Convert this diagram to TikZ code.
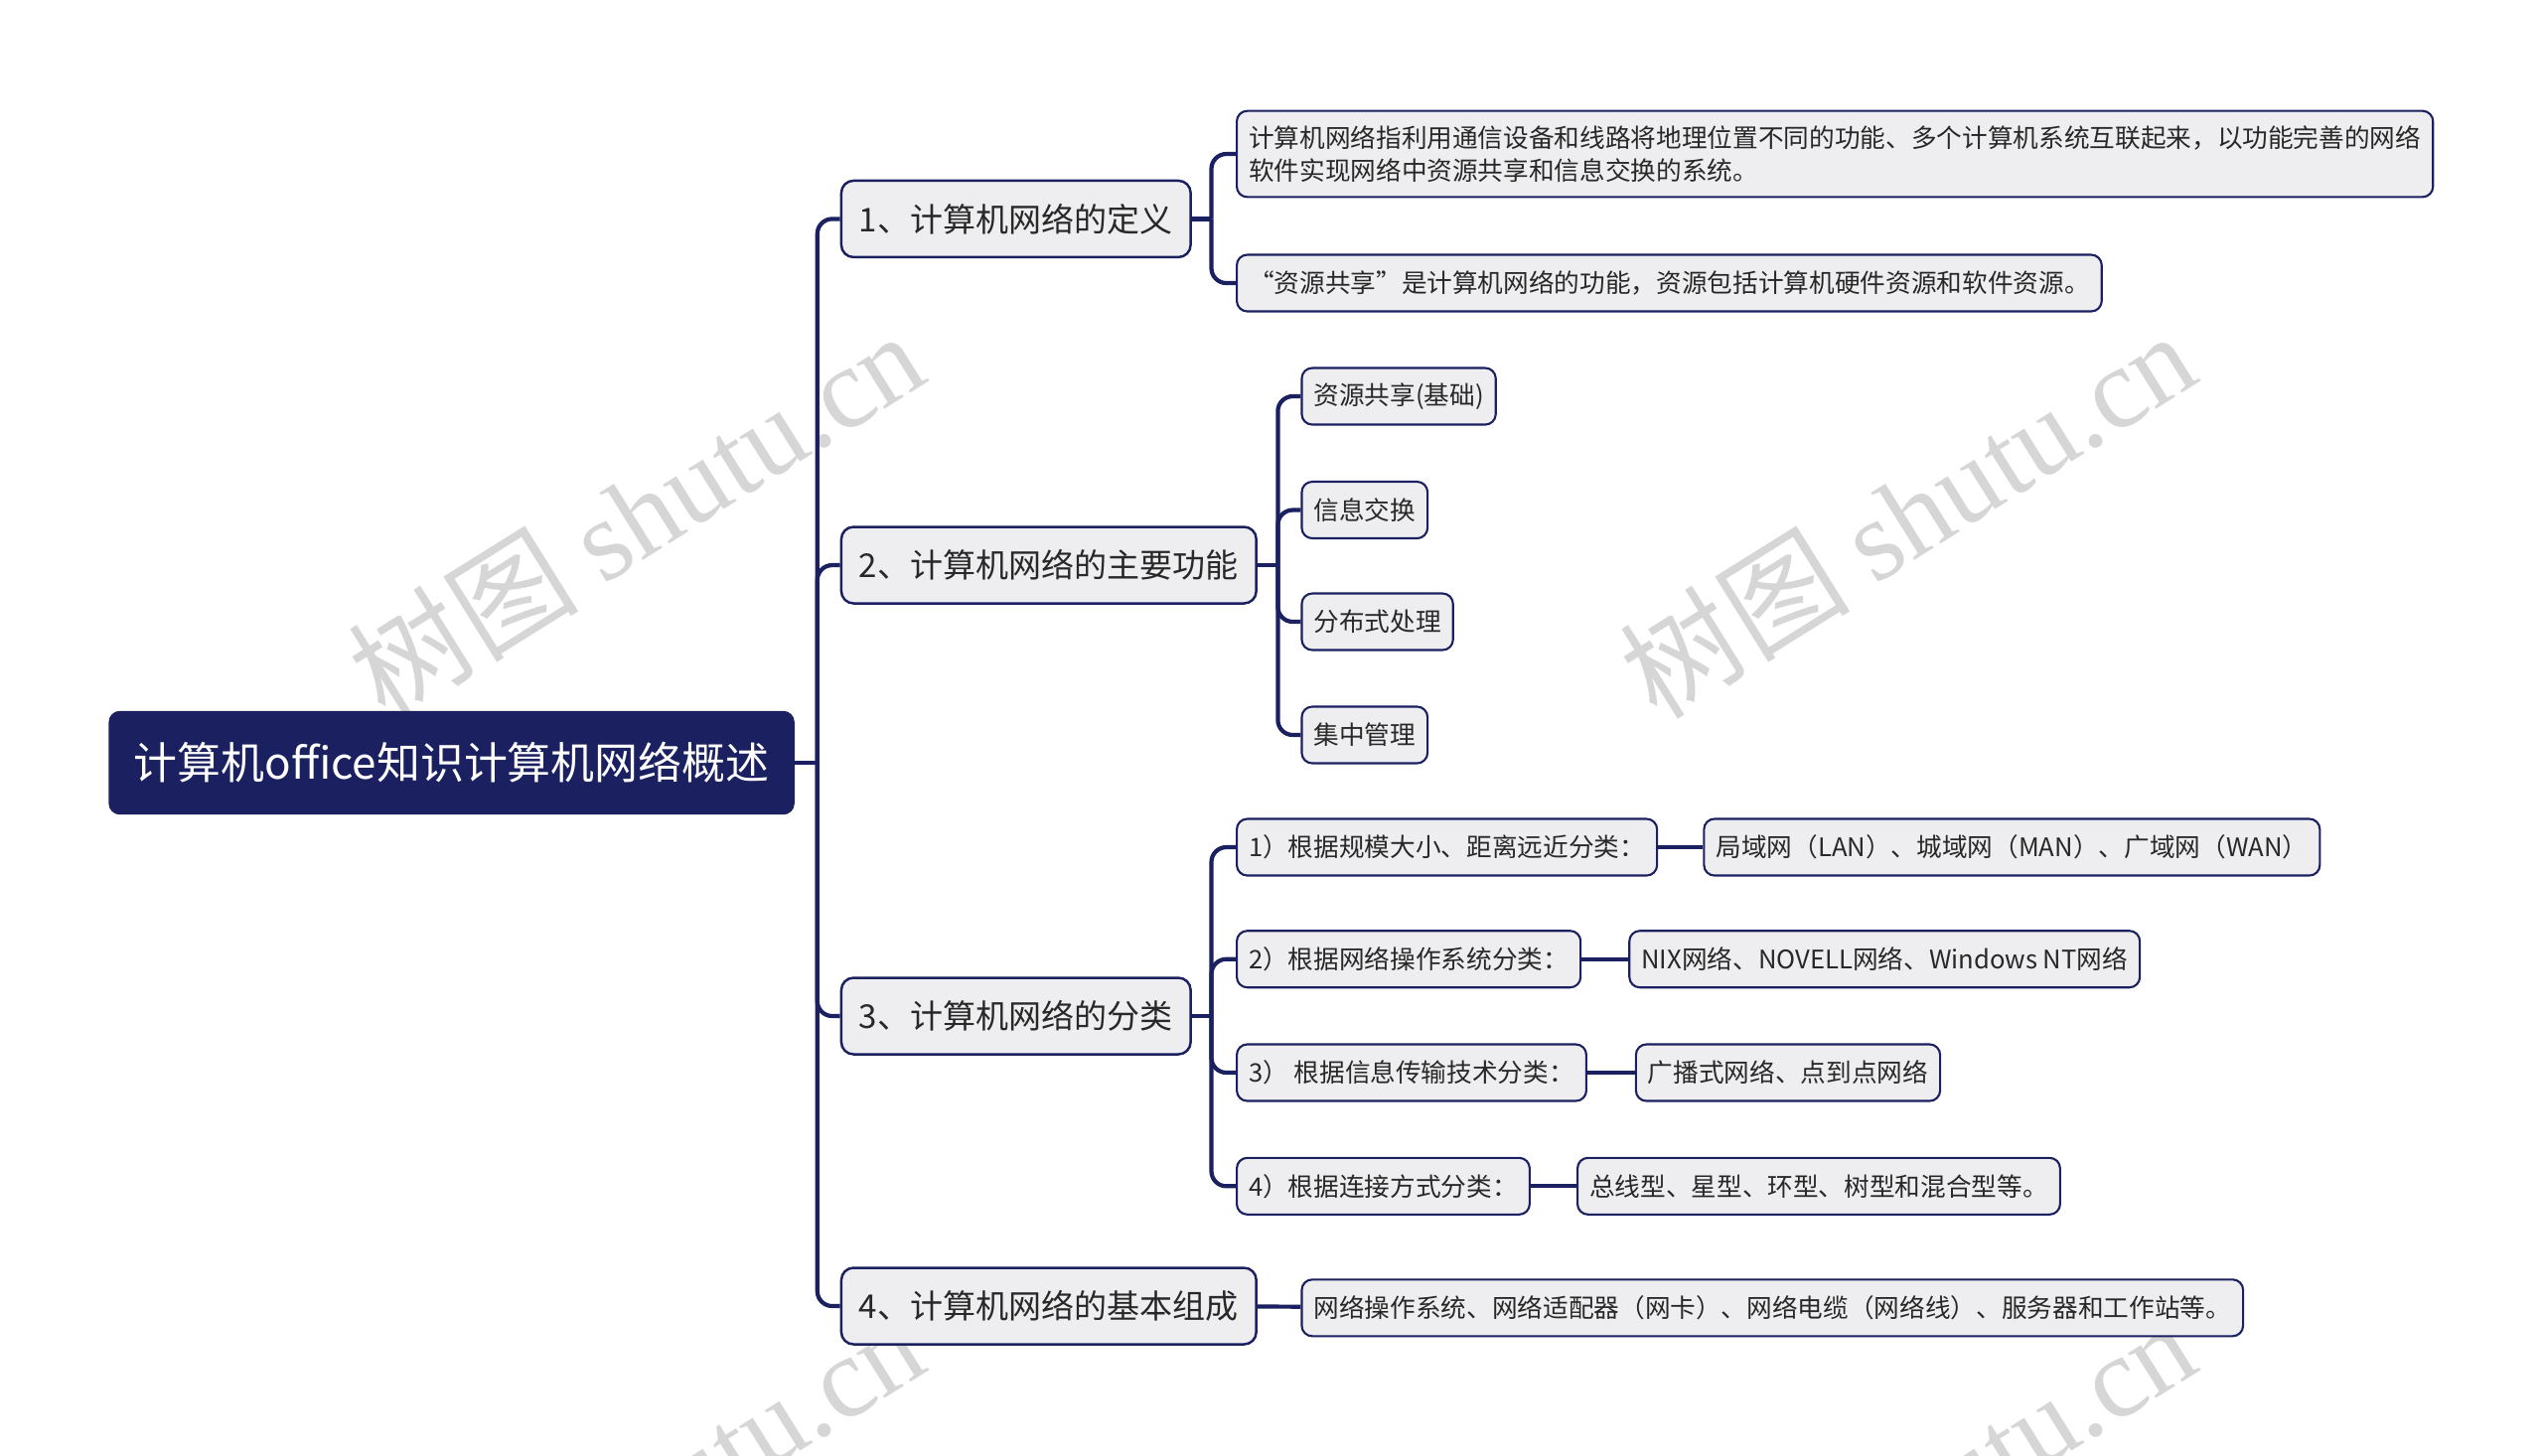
\documentclass[tikz,border=0pt]{standalone}
\usepackage{fontspec}
\setmainfont{Noto Sans CJK SC}
\newfontfamily\wmfont{Liberation Serif}
\usepackage{tikz}
\usetikzlibrary{positioning,calc}
\definecolor{navy}{RGB}{27,32,96}
\definecolor{boxfill}{RGB}{238,238,240}
\definecolor{txt}{RGB}{40,40,40}
\definecolor{wmark}{RGB}{214,214,214}
\tikzset{
  root/.style={rectangle,rounded corners=3pt,draw=navy,fill=navy,text=white,
               minimum width=6.89cm,minimum height=1.03cm,inner sep=0pt,
               font=\fontsize{12.5}{15}\selectfont},
  topic/.style={rectangle,rounded corners=3.5pt,draw=navy,line width=0.7pt,
                fill=boxfill,text=txt,anchor=west,
                minimum height=0.77cm,inner xsep=0.18cm,inner ysep=0pt,
                font=\fontsize{9.4}{11}\selectfont},
  leaf/.style={topic,rounded corners=3pt,line width=0.6pt,
               minimum height=0.57cm,inner xsep=0.12cm,
               font=\fontsize{7.3}{9.3}\selectfont},
  link/.style={draw=navy,line width=1.2pt,rounded corners=0.15cm},
  wm/.style={text=wmark,rotate=32,font=\fontsize{33}{38}\selectfont},
}

\begin{document}
\begin{tikzpicture}
\useasboundingbox (0,0) rectangle (25.6,-14.65);

% Watermarks
\begin{scope}
\clip (0,0) rectangle (25.6,-14.65);
\node[wm] (wm1) at (6.40,-5.17)  {树图 {\wmfont shutu.cn}};
\node[wm] (wm2) at (19.20,-5.17) {树图 {\wmfont shutu.cn}};
\node[wm] (wm3) at (6.40,-15.13) {树图 {\wmfont shutu.cn}};
\node[wm] (wm4) at (19.20,-15.13) {树图 {\wmfont shutu.cn}};
\end{scope}

% Root
\node[root,anchor=west] (root) at (1.094,-7.68) {计算机office知识计算机网络概述};

% Topics
\node[topic] (t1) at (8.457,-2.204)  {1、计算机网络的定义};
\node[topic] (t2) at (8.457,-5.69)   {2、计算机网络的主要功能};
\node[topic] (t3) at (8.457,-10.23)  {3、计算机网络的分类};
\node[topic] (t4) at (8.457,-13.15)  {4、计算机网络的基本组成};

% Definition
\node[leaf,align=left,inner ysep=0.15cm] (d1) at (12.44,-1.55)
  {计算机网络指利用通信设备和线路将地理位置不同的功能、多个计算机系统互联起来，以功能完善的网络\\
   软件实现网络中资源共享和信息交换的系统。};
\node[leaf] (d2) at (12.44,-2.85) {“资源共享”是计算机网络的功能，资源包括计算机硬件资源和软件资源。};

% Functions
\node[leaf] (f1) at (13.094,-3.99)  {资源共享(基础)};
\node[leaf] (f2) at (13.094,-5.135) {信息交换};
\node[leaf] (f3) at (13.094,-6.26)  {分布式处理};
\node[leaf] (f4) at (13.094,-7.40)  {集中管理};

% Classification
\node[leaf] (k1) at (12.44,-8.53)   {1）根据规模大小、距离远近分类：};
\node[leaf] (k2) at (12.44,-9.657)  {2）根据网络操作系统分类：};
\node[leaf] (k3) at (12.44,-10.80)  {3） 根据信息传输技术分类：};
\node[leaf] (k4) at (12.44,-11.943) {4）根据连接方式分类：};

\node[leaf] (g1) at (17.143,-8.53)  {局域网（LAN）、城域网（MAN）、广域网（WAN）};
\node[leaf] (g2) at (16.392,-9.657) {NIX网络、NOVELL网络、Windows NT网络};
\node[leaf] (g3) at (16.458,-10.80) {广播式网络、点到点网络};
\node[leaf] (g4) at (15.87,-11.943) {总线型、星型、环型、树型和混合型等。};

% Components
\node[leaf] (p1) at (13.094,-13.168) {网络操作系统、网络适配器（网卡）、网络电缆（网络线）、服务器和工作站等。};

% Connectors
\draw[link] (root.east) -- ++(0.23,0) coordinate (b0);
\foreach \t in {t1,t2,t3,t4} \draw[link] (b0) |- (\t.west);

\coordinate (b1) at ($(t1.east -| d1.west)+(-0.245,0)$);
\draw[link] (t1.east) -- (b1);
\foreach \d in {d1,d2} \draw[link] (b1) |- (\d.west);

\coordinate (b2) at ($(t2.east -| f1.west)+(-0.23,0)$);
\draw[link] (t2.east) -- (b2);
\foreach \f in {f1,f2,f3,f4} \draw[link] (b2) |- (\f.west);

\coordinate (b3) at ($(t3.east -| k1.west)+(-0.245,0)$);
\draw[link] (t3.east) -- (b3);
\foreach \k in {k1,k2,k3,k4} \draw[link] (b3) |- (\k.west);

\draw[link] (k1) -- (g1);
\draw[link] (k2) -- (g2);
\draw[link] (k3) -- (g3);
\draw[link] (k4) -- (g4);

\draw[link] (t4) -- (p1);

\end{tikzpicture}
\end{document}
